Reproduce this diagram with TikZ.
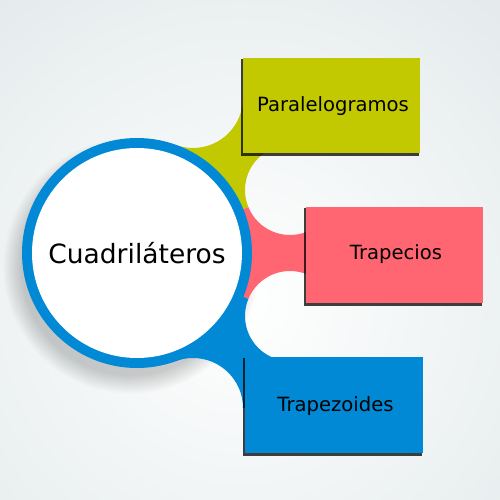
\documentclass[tikz,border=0pt]{standalone}
\usepackage{fontspec}
\setmainfont{DejaVu Sans}
\definecolor{bgc}{HTML}{D3DEE0}
\definecolor{ycol}{HTML}{C3C900}
\definecolor{rcol}{HTML}{FF6671}
\definecolor{bcol}{HTML}{0189D6}
\begin{document}
\begin{tikzpicture}[x=1pt,y=-1pt,
  lbl/.style={font=\fontsize{19.6}{22}\selectfont,text=black},
  rshadow/.style={fill=black,opacity=0.75}]
\useasboundingbox (0,0) rectangle (500,500);
% background
\fill[bgc] (0,0) rectangle (500,500);
\begin{scope}
\clip (0,0) rectangle (500,500);
\shade[inner color=white,outer color=bgc] (240,300) circle (640pt);
\end{scope}
% main circle shadow
\foreach \i in {0,...,11}{
  \fill[black,opacity=0.016] (131,266) circle ({110+\i*1.6 pt});
}
% connectors with cut-outs
\coordinate (C) at (137,253);
\coordinate (TL) at (193,98);
\coordinate (MT) at (290,190);
\coordinate (MB) at (290,316);
\coordinate (BL) at (193,408);
\begin{scope}[even odd rule]
\clip (0,0) rectangle (500,500)
  (TL) circle (50pt) (MT) circle (45pt) (MB) circle (45pt) (BL) circle (50pt);
\fill[ycol] (C) -- (TL) -- (300,98) -- (300,190) -- (MT) -- cycle;
\fill[rcol] (C) -- (MT) -- (320,190) -- (320,316) -- (MB) -- cycle;
\fill[bcol] (C) -- (MB) -- (300,316) -- (300,408) -- (BL) -- cycle;
\end{scope}
% main circle
\fill[bcol] (C) circle (115pt);
\node[circle,fill=white,minimum size=210pt,inner sep=0pt,
  font=\fontsize{26.5}{30}\selectfont,text=black] (main) at (C) {Cuadriláteros};
% rectangles
\fill[rshadow] (240.5,59) rectangle (419,155.5);
\fill[ycol] (243,58) rectangle (420,153);
\node[lbl] (p) at (333,106) {Paralelogramos};
\fill[rshadow] (303.5,208) rectangle (482,305.5);
\fill[rcol] (306,207) rectangle (483,303);
\node[lbl] (t) at (396,254) {Trapecios};
\fill[rshadow] (242.5,358) rectangle (422,455.5);
\fill[bcol] (245,357) rectangle (423,453);
\node[lbl] (z) at (335.5,406) {Trapezoides};
\end{tikzpicture}
\end{document}
